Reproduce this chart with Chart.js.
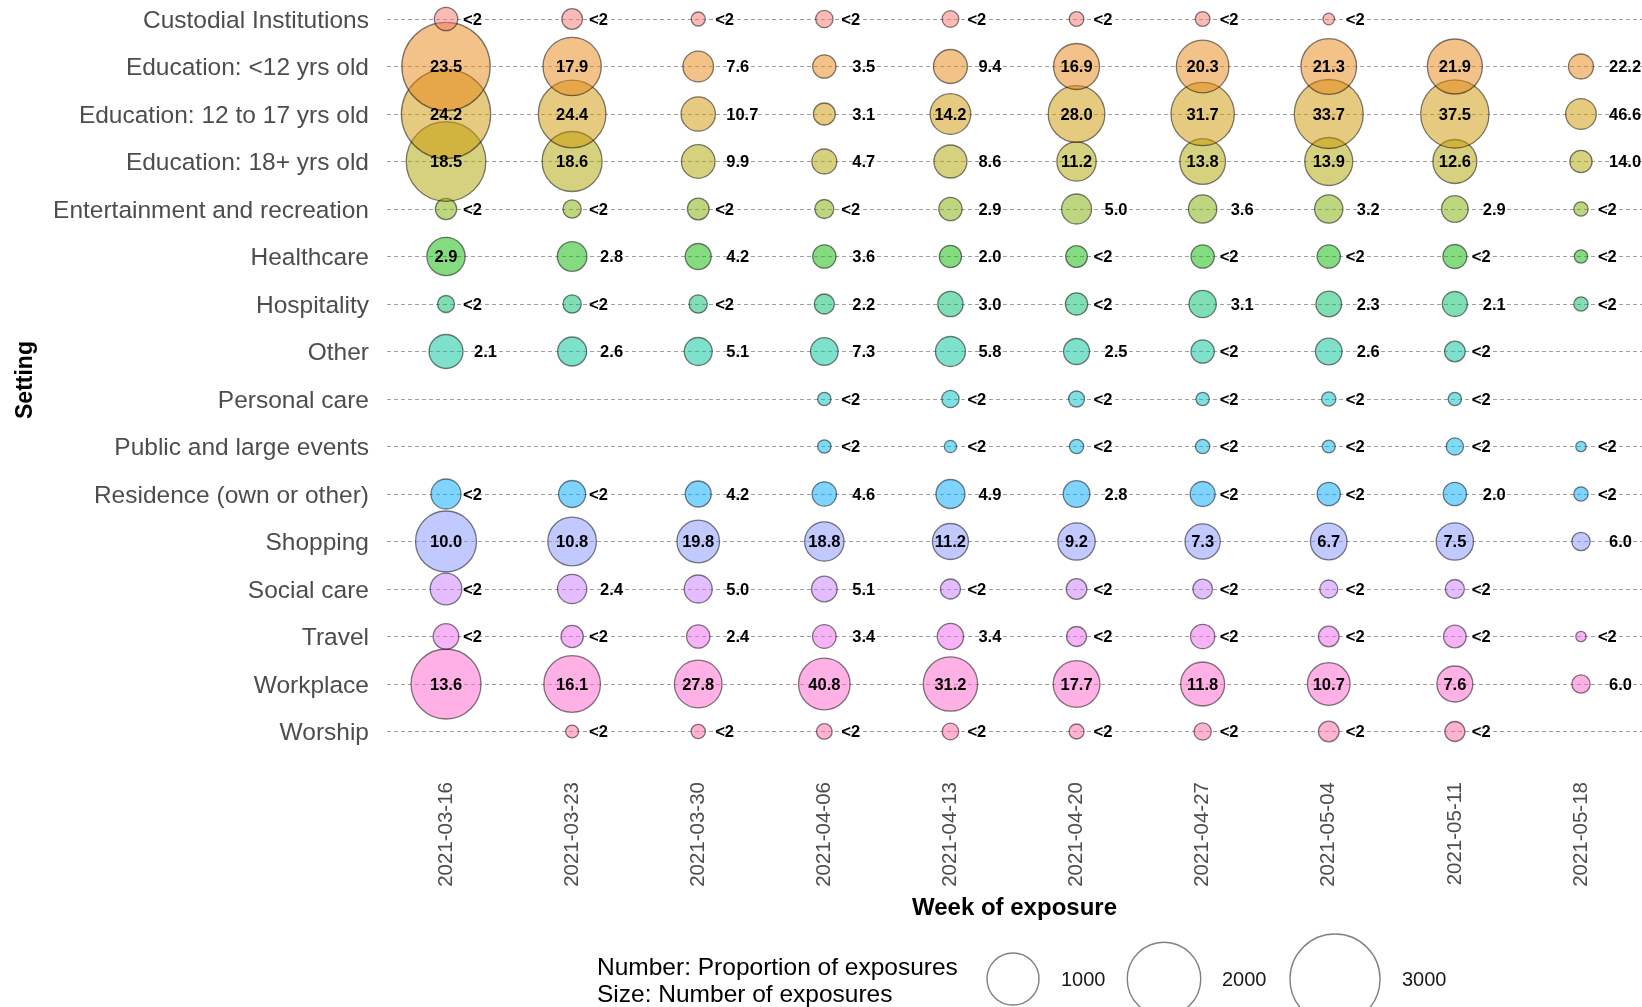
<!DOCTYPE html>
<html>
<head>
<meta charset="utf-8">
<title>Exposure settings by week</title>
<script src="https://cdn.jsdelivr.net/npm/chart.js@4.4.0/dist/chart.umd.min.js"></script>
<style>
  html, body { margin: 0; padding: 0; background: #fff; }
  #wrap { width: 1642px; height: 1007px; position: relative; }
</style>
</head>
<body>
<div id="wrap"><canvas id="exposureChart"></canvas></div>
<script>
const settings = [
  'Custodial Institutions',
  'Education: <12 yrs old',
  'Education: 12 to 17 yrs old',
  'Education: 18+ yrs old',
  'Entertainment and recreation',
  'Healthcare',
  'Hospitality',
  'Other',
  'Personal care',
  'Public and large events',
  'Residence (own or other)',
  'Shopping',
  'Social care',
  'Travel',
  'Workplace',
  'Worship'
];

const weeks = [
  '2021-03-16', '2021-03-23', '2021-03-30', '2021-04-06', '2021-04-13',
  '2021-04-20', '2021-04-27', '2021-05-04', '2021-05-11', '2021-05-18'
];

// number of exposures per setting (rows) and week (columns), null = no data
const exposureCounts = [
  [202, 158, 72, 111, 103, 80, 80, 50, null, null],
  [2886, 1258, 348, 201, 427, 783, 1023, 1146, 1119, 231],
  [2951, 1693, 436, 179, 611, 1187, 1486, 1761, 1727, 348],
  [2347, 1331, 419, 231, 403, 572, 774, 852, 716, 184],
  [168, 124, 174, 134, 201, 333, 298, 297, 263, 76],
  [543, 325, 250, 201, 184, 174, 201, 201, 213, 66],
  [107, 124, 124, 148, 237, 184, 276, 243, 231, 76],
  [427, 311, 290, 283, 333, 250, 201, 263, 158, null],
  [null, null, null, 66, 111, 95, 66, 76, 66, null],
  [null, null, null, 66, 56, 76, 76, 62, 111, 40],
  [333, 270, 250, 219, 311, 263, 231, 201, 201, 76],
  [1376, 875, 673, 572, 479, 515, 460, 497, 515, 124],
  [371, 318, 290, 243, 148, 158, 143, 120, 134, null],
  [243, 184, 201, 206, 256, 148, 219, 158, 190, 40],
  [1812, 1187, 840, 986, 1091, 806, 716, 673, 479, 124],
  [null, 62, 76, 91, 103, 83, 111, 158, 148, null]
];

// proportion of exposures (%), '<2' where suppressed
const proportions = [
  ['<2', '<2', '<2', '<2', '<2', '<2', '<2', '<2', null, null],
  [23.5, 17.9, 7.6, 3.5, 9.4, 16.9, 20.3, 21.3, 21.9, 22.2],
  [24.2, 24.4, 10.7, 3.1, 14.2, 28.0, 31.7, 33.7, 37.5, 46.6],
  [18.5, 18.6, 9.9, 4.7, 8.6, 11.2, 13.8, 13.9, 12.6, 14.0],
  ['<2', '<2', '<2', '<2', 2.9, 5.0, 3.6, 3.2, 2.9, '<2'],
  [2.9, 2.8, 4.2, 3.6, 2.0, '<2', '<2', '<2', '<2', '<2'],
  ['<2', '<2', '<2', 2.2, 3.0, '<2', 3.1, 2.3, 2.1, '<2'],
  [2.1, 2.6, 5.1, 7.3, 5.8, 2.5, '<2', 2.6, '<2', null],
  [null, null, null, '<2', '<2', '<2', '<2', '<2', '<2', null],
  [null, null, null, '<2', '<2', '<2', '<2', '<2', '<2', '<2'],
  ['<2', '<2', 4.2, 4.6, 4.9, 2.8, '<2', '<2', 2.0, '<2'],
  [10.0, 10.8, 19.8, 18.8, 11.2, 9.2, 7.3, 6.7, 7.5, 6.0],
  ['<2', 2.4, 5.0, 5.1, '<2', '<2', '<2', '<2', '<2', null],
  ['<2', '<2', 2.4, 3.4, 3.4, '<2', '<2', '<2', '<2', '<2'],
  [13.6, 16.1, 27.8, 40.8, 31.2, 17.7, 11.8, 10.7, 7.6, 6.0],
  [null, '<2', '<2', '<2', '<2', '<2', '<2', '<2', '<2', null]
];

const legendSizes = [1000, 2000, 3000];

const FONT = '"Liberation Sans", Arial, Helvetica, sans-serif';
const INSIDE_MIN = 450;   // bubbles this big carry their label inside

// bubble area proportional to the number of exposures
const radiusOf = n => 26 * Math.sqrt(n / 1000);

// ggplot-style hue palette: polar LUV with L = 65, C = 100
function hueColour(h) {
  const L = 65, C = 100;
  const U = C * Math.cos(h * Math.PI / 180), V = C * Math.sin(h * Math.PI / 180);
  const Xn = 95.047, Yn = 100, Zn = 108.883;
  const un = 4 * Xn / (Xn + 15 * Yn + 3 * Zn), vn = 9 * Yn / (Xn + 15 * Yn + 3 * Zn);
  const Y = Yn * Math.pow((L + 16) / 116, 3);
  const u = U / (13 * L) + un, v = V / (13 * L) + vn;
  const X = 9 * Y * u / (4 * v);
  const Z = -X / 3 - 5 * Y + 3 * Y / v;
  const lin = [
    3.240479 * X - 1.537150 * Y - 0.498535 * Z,
    -0.969256 * X + 1.875992 * Y + 0.041556 * Z,
    0.055648 * X - 0.204043 * Y + 1.057311 * Z
  ].map(c => c / 100);
  return lin.map(c => {
    c = c <= 0.0031308 ? 12.92 * c : 1.055 * Math.pow(c, 1 / 2.4) - 0.055;
    return Math.round(255 * Math.min(1, Math.max(0, c)));
  });
}

const datasets = settings.map((setting, i) => {
  const [r, g, b] = hueColour(15 + i * 360 / settings.length);
  const points = [];
  weeks.forEach((week, j) => {
    const n = exposureCounts[i][j];
    if (n == null) return;
    points.push({ x: j, y: i, r: radiusOf(n), count: n, label: proportions[i][j] });
  });
  return {
    label: setting,
    data: points,
    backgroundColor: `rgba(${r}, ${g}, ${b}, 0.5)`,
    borderColor: 'rgba(0, 0, 0, 0.5)',
    borderWidth: 1.3
  };
});

// proportion labels: inside big bubbles, to the right of small ones
const bubbleLabels = {
  id: 'bubbleLabels',
  afterDatasetsDraw(chart) {
    const ctx = chart.ctx;
    ctx.save();
    ctx.font = `bold 16.5px ${FONT}`;
    ctx.fillStyle = '#000';
    ctx.textBaseline = 'middle';
    chart.data.datasets.forEach((ds, i) => {
      chart.getDatasetMeta(i).data.forEach((pt, j) => {
        const raw = ds.data[j];
        const text = typeof raw.label === 'number' ? raw.label.toFixed(1) : raw.label;
        if (raw.count >= INSIDE_MIN) {
          ctx.textAlign = 'center';
          ctx.fillText(text, pt.x, pt.y + 1);
        } else {
          ctx.textAlign = 'left';
          ctx.fillText(text, pt.x + (text === '<2' ? 17 : 28), pt.y + 1);
        }
      });
    });
    ctx.restore();
  }
};

// size legend at the bottom
const sizeLegend = {
  id: 'sizeLegend',
  afterDraw(chart) {
    const ctx = chart.ctx;
    ctx.save();
    ctx.fillStyle = '#000';
    ctx.textBaseline = 'middle';
    ctx.textAlign = 'left';
    ctx.font = `24.5px ${FONT}`;
    ctx.fillText('Number: Proportion of exposures', 597, 968);
    ctx.fillText('Size: Number of exposures', 597, 995);

    const circleX = [1013, 1164, 1335];
    const textX = [1061, 1222, 1402];
    ctx.font = `20px ${FONT}`;
    legendSizes.forEach((n, k) => {
      ctx.beginPath();
      ctx.arc(circleX[k], 979, radiusOf(n), 0, Math.PI * 2);
      ctx.strokeStyle = '#808080';
      ctx.lineWidth = 1.4;
      ctx.stroke();
      ctx.fillStyle = '#1a1a1a';
      ctx.fillText(String(n), textX[k], 980);
    });
    ctx.restore();
  }
};

Chart.defaults.font.family = FONT;

new Chart(document.getElementById('exposureChart'), {
  type: 'bubble',
  data: { datasets },
  plugins: [bubbleLabels, sizeLegend],
  options: {
    responsive: true,
    maintainAspectRatio: false,
    animation: false,
    events: [],
    layout: { autoPadding: false, padding: { top: 0, left: 0, right: 0, bottom: 80 } },
    plugins: {
      legend: { display: false },
      tooltip: { enabled: false }
    },
    scales: {
      x: {
        type: 'linear',
        min: -0.468,
        max: 9.484,
        afterBuildTicks: axis => { axis.ticks = weeks.map((w, i) => ({ value: i })); },
        afterFit: axis => {
          axis.height = 167;
          axis.paddingLeft = 0;
          axis.paddingRight = 0;
        },
        ticks: {
          callback: v => weeks[v],
          autoSkip: false,
          minRotation: 90,
          maxRotation: 90,
          padding: 22,
          color: '#4d4d4d',
          font: { size: 20.5 }
        },
        grid: { display: false, drawTicks: false },
        border: { display: false },
        title: {
          display: true,
          text: 'Week of exposure',
          color: '#000',
          font: { size: 24, weight: 'bold' },
          padding: { top: 0, bottom: 4 }
        }
      },
      y: {
        type: 'linear',
        reverse: true,
        min: -0.4,
        max: 15.6,
        afterBuildTicks: axis => { axis.ticks = settings.map((s, i) => ({ value: i })); },
        afterFit: axis => {
          axis.width = 387;
          axis.paddingTop = 0;
          axis.paddingBottom = 0;
        },
        ticks: {
          callback: v => settings[v],
          autoSkip: false,
          padding: 18,
          labelOffset: 2,
          color: '#4d4d4d',
          font: { size: 24.5 }
        },
        grid: { color: '#9e9e9e', lineWidth: 1, drawTicks: false },
        border: { display: false, dash: [4, 3] },
        title: {
          display: true,
          text: 'Setting',
          color: '#000',
          font: { size: 23, weight: 'bold' },
          padding: { top: 12, bottom: 0 }
        }
      }
    }
  }
});
</script>
</body>
</html>
